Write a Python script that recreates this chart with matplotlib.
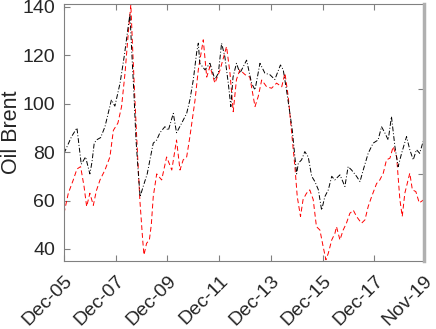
import matplotlib
matplotlib.use('Agg')
import matplotlib.pyplot as plt
import matplotlib.transforms as mtransforms

# months after Dec-2005
brent_months = [0, 3.5, 6, 8, 10, 12, 13, 14, 15, 17, 19, 22, 23.6, 26, 28, 29.8, 30.6,
                31.4, 32.5, 33.4, 34.5, 35.3, 36.8, 38.6, 39.9, 41.4, 43, 44.5, 46.8,
                48.4, 50.7, 52.2, 54.6, 56.9, 58.4, 60, 61.5, 62.3, 63, 65.4, 67.7, 70,
                71.6, 73.1, 74.6, 76.2, 77.4, 78.4, 80, 81.6, 84.7, 87, 88.6, 90.9, 93.2,
                95.5, 97.8, 100.4, 101.7, 103.2, 104.8, 105.9, 107.1, 107.9, 108.7,
                110.2, 111.7, 113.3, 114.9, 116.4, 118, 119.5, 121, 122.6, 124.2, 125.6,
                128, 130.3, 131.8, 133.4, 135.7, 137.3, 138.8, 141.1, 143.4, 145.7,
                147.3, 148.8, 150.4, 151.9, 153.5, 155, 156.6, 158.9, 160.4, 162, 163.5,
                165, 166.6, 167]
brent = [79.5, 86.4, 90, 75, 78, 71, 76, 83.6, 85, 86, 90.5, 101.6, 99, 108.5, 120, 132,
         137, 122, 103, 85, 71, 61.6, 66, 71, 77, 83.7, 85, 88, 90.5, 89, 96, 88, 92, 96,
         101.6, 110, 121, 125, 116.7, 114, 116.7, 110, 112.6, 125, 119.5, 108.5, 98.8,
         111, 116.7, 112.6, 118, 108.5, 105.7, 116.7, 112.6, 112, 110, 116, 114, 105.7,
         96, 89, 78, 71, 75.4, 76.8, 80.2, 78, 70, 67.8, 64.4, 56, 61.6, 64.4, 70, 68.5,
         70.6, 65.8, 74, 72.6, 70, 67.8, 72.6, 79.5, 83.7, 85, 90.5, 88, 85, 94.7, 82.3,
         74, 79.5, 86.4, 81, 76.8, 81, 79.5, 84.4, 83]

model_months = [0, 2, 4.3, 6, 7.7, 9.3, 10.5, 12, 13.6, 15, 16.7, 19, 21.3, 22.9, 25,
                26.7, 28.3, 29.8, 31, 31.8, 32.9, 34, 35.2, 36.5, 37.1, 38.3, 39.6, 40.5,
                41.4, 43, 45.3, 47.6, 50, 52.2, 53.8, 55.3, 56.9, 58.4, 60.8, 62.3, 64.6,
                66.2, 67.7, 70, 72.4, 75.4, 77, 78.5, 80, 81.6, 84, 86.2, 88.6, 90.1,
                91.7, 94, 96.3, 98.6, 101, 102.5, 104, 105.5, 107.1, 108.2, 109.7, 110.9,
                112.5, 114, 115.6, 117.1, 118.7, 120.2, 121.5, 122.6, 124.2, 125.7, 126.4,
                128, 129.5, 131, 132.6, 134.2, 135.7, 138, 139.6, 141.1, 142.7, 145,
                146.5, 148.1, 149.6, 151.2, 152.7, 154.3, 155.8, 156.9, 158.1, 160.4,
                161.6, 163.2, 164.8, 167]
model = [54.7, 63, 68.5, 73, 74, 65.8, 57.5, 63, 58, 64, 68.5, 72.6, 78, 89, 92, 98.8,
         112.6, 129, 141, 123.6, 101.6, 81, 60, 43.7, 37.5, 42.3, 43.7, 50, 61.6, 71,
         68.5, 78, 72.6, 85, 72.6, 76.8, 78, 86.4, 101.6, 114, 126.4, 111, 115.4, 108.5,
         114, 123.6, 112.6, 96.7, 110, 114, 112, 111, 98.8, 103, 109.8, 107, 106.4, 108.5,
         107, 112.6, 103, 89, 74, 61.6, 53.4, 60.4, 63, 64.4, 60.4, 49.2, 47.8, 41, 35.5,
         38.2, 43.7, 46.5, 49.2, 43.7, 47.8, 50.6, 54.7, 56, 53.4, 50.6, 52, 57.5, 61.6,
         67, 68.5, 71.3, 76.8, 77.5, 82.3, 78, 60.4, 53.4, 63, 71.3, 64.4, 63.7, 59, 60.4]

tick_months = [0, 24, 48, 72, 96, 120, 144, 167]
tick_labels = ['Dec-05', 'Dec-07', 'Dec-09', 'Dec-11', 'Dec-13', 'Dec-15', 'Dec-17', 'Nov-19']
y_ticks = [40, 60, 80, 100, 120, 140]
right_ticks = [71.0, 106.1]

plt.rcParams['font.family'] = ['Liberation Sans', 'DejaVu Sans']
grey = '#808080'
txt = '#262626'

fig = plt.figure(figsize=(4.36, 3.29), dpi=100)
ax = fig.add_axes([0.1468, 0.2067, 0.8257, 0.7811])

ax.plot(model_months, model, color='red', linestyle=(0, (5, 3)), linewidth=0.7)
ax.plot(brent_months, brent, color='black', linestyle=(0, (5, 2, 1, 2)), linewidth=0.7)

ax.set_xlim(0, 167)
ax.set_ylim(35, 141.2)
ax.set_xticks(tick_months)
ax.set_xticklabels([])
# slanted date labels, placed like MATLAB does
base = mtransforms.blended_transform_factory(ax.transData, ax.transAxes)
shift = mtransforms.ScaledTranslation(0.06, -0.17, fig.dpi_scale_trans)
for m, lab in zip(tick_months, tick_labels):
    ax.text(m, 0, lab, transform=base + shift, rotation=45, ha='right', va='center',
            rotation_mode='anchor', fontsize=14, color=txt)
ax.set_yticks(y_ticks)
ax.tick_params(axis='y', labelsize=14, labelcolor=txt)
ax.tick_params(direction='in', length=4, color=grey, top=True, right=False, pad=6.5)
ax.set_ylabel('Oil Brent', fontsize=15.5, color=txt)
ax.yaxis.set_label_coords(-0.118, 0.5)
for s in ax.spines.values():
    s.set_color(grey)
    s.set_linewidth(0.8)

ax2 = ax.twinx()
ax2.set_ylim(35, 141.2)
ax2.set_yticks(right_ticks)
ax2.tick_params(direction='in', length=4, color=grey, labelright=False)
ax2.spines['right'].set_color('#b0b0b0')
ax2.spines['right'].set_linewidth(2.5)
for k in ['left', 'top', 'bottom']:
    ax2.spines[k].set_visible(False)

fig.savefig('out.png', dpi=100)
